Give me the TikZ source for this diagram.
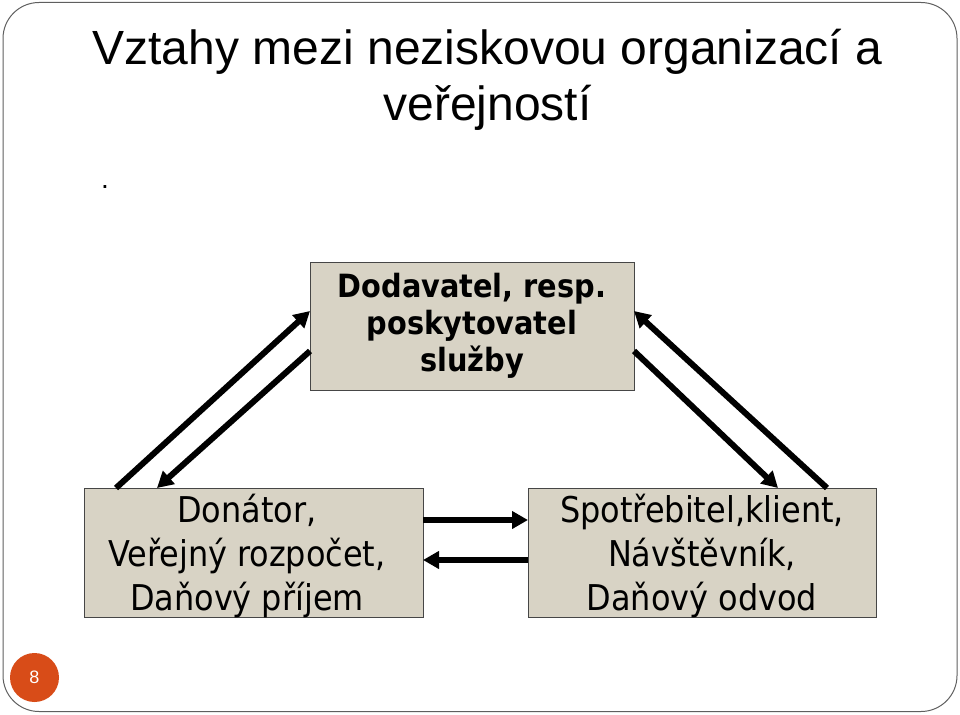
\documentclass[tikz,border=0pt]{standalone}
\usepackage{fontspec}
\setmainfont{Liberation Sans}
\newfontfamily\dejavuc{DejaVu Sans Condensed}
\usetikzlibrary{arrows.meta,calc}
\definecolor{boxfill}{RGB}{216,211,197}
\definecolor{boxline}{RGB}{70,70,70}
\definecolor{framecol}{RGB}{95,95,95}
\definecolor{badge}{RGB}{216,76,24}
\begin{document}
\begin{tikzpicture}[x=1pt,y=-1pt,
  boxstyle/.style={draw=boxline, fill=boxfill, line width=1pt, inner sep=0pt, outer sep=0pt, anchor=center},
  boldtext/.style={align=center, font=\dejavuc\bfseries\fontsize{32}{37}\selectfont, inner sep=0pt},
  plaintext/.style={align=center, font=\dejavuc\fontsize{35.5}{44}\selectfont, inner sep=0pt},
  titletext/.style={font=\fontsize{48}{56}\selectfont, inner sep=0pt, anchor=base},
  flow/.style={line width=6pt, -{Triangle[length=16pt,width=17pt]}}
]
\useasboundingbox (0,0) rectangle (960,714);
% frame
\draw[framecol, line width=1pt, rounded corners=36pt] (3,2.5) rectangle (957,711.5);
% title
\node[titletext] (title1) at (487.5,65) {Vztahy mezi neziskovou organizací a};
\node[titletext] (title2) at (487.5,121) {veřejností};
\node[font=\fontsize{28}{30}\selectfont, inner sep=0pt, anchor=base] (dot) at (105,188) {.};
% boxes
\node[boxstyle, minimum width=324pt, minimum height=128pt] (sup) at (472,326) {};
\node[boldtext] (suptext) at (472,326) {Dodavatel, resp.\\poskytovatel\\služby};
\node[boxstyle, minimum width=339pt, minimum height=129pt] (don) at (253.5,552.5) {};
\node[plaintext] (dontext) at (247,556) {Donátor,\\Veřejný rozpočet,\\Daňový příjem};
\node[boxstyle, minimum width=348pt, minimum height=129pt] (spo) at (702,552.5) {};
\node[plaintext] (spotext) at (702,556) {Spotřebitel,klient,\\Návštěvník,\\Daňový odvod};
% arrows
\draw[flow] ($(don.north west)+(32,0)$) -- ($(sup.north west)+(0,49)$);
\draw[flow] ($(sup.north west)+(0,89)$) -- ($(don.north west)+(73,0)$);
\draw[flow] ($(sup.north east)+(0,89)$) -- ($(spo.north west)+(250,0)$);
\draw[flow] ($(spo.north west)+(299,0)$) -- ($(sup.north east)+(0,49)$);
\draw[flow] ($(don.north east)+(0,32)$) -- ($(spo.north west)+(0,32)$);
\draw[flow] ($(spo.north west)+(0,72)$) -- ($(don.north east)+(0,72)$);
% badge
\node[circle, fill=badge, minimum size=49pt, inner sep=0pt, text=white, font=\fontsize{18}{20}\selectfont] (badge) at (34.5,677.5) {8};
\end{tikzpicture}
\end{document}
